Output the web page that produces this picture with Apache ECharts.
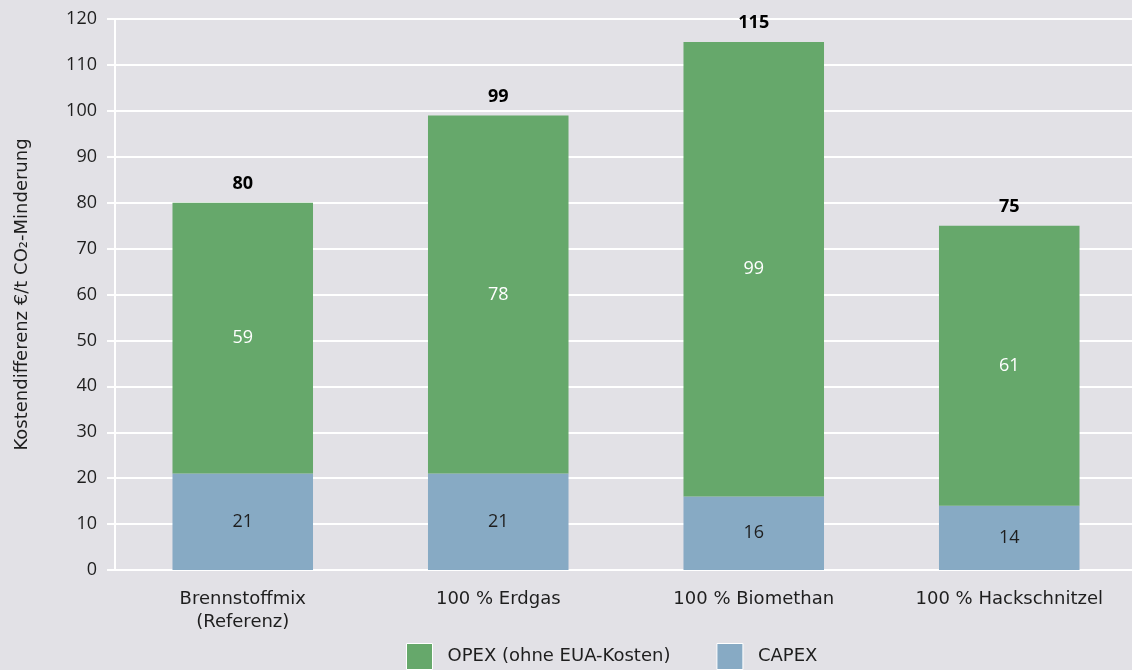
<!DOCTYPE html>
<html>
<head>
<meta charset="utf-8">
<style>
  html, body { margin: 0; padding: 0; background: #e2e1e6; }
  #chart { width: 1132px; height: 670px; }
</style>
<script src="https://cdn.jsdelivr.net/npm/echarts@6/dist/echarts.min.js"></script>
</head>
<body>
<div id="chart"></div>
<script>
// Kostendifferenz je Brennstoffvariante, €/t CO2-Minderung
const categories = ['Brennstoffmix\n(Referenz)', '100 % Erdgas', '100 % Biomethan', '100 % Hackschnitzel'];
const capex = [21, 21, 16, 14];
const opex = [59, 78, 99, 61];
const yTicks = { min: 0, max: 120, interval: 10 };

const totals = categories.map((_, i) => capex[i] + opex[i]);

const TEXT_FONT = '"DejaVu Sans", "Noto Sans", sans-serif';
const NUM_FONT = '"Open Sans", "Noto Sans", sans-serif';
const TEXT = '#1e1e1e';

const chart = echarts.init(document.getElementById('chart'), null, { renderer: 'canvas' });

chart.setOption({
  backgroundColor: '#e2e1e6',
  animation: false,
  textStyle: { fontFamily: TEXT_FONT, color: TEXT },
  grid: { left: 115, right: -5, top: 19, bottom: 100, containLabel: false, outerBoundsMode: 'none' },
  legend: {
    left: 401,
    top: 638,
    icon: 'rect',
    itemWidth: 26,
    itemHeight: 26,
    itemGap: 46,
    data: ['OPEX (ohne EUA-Kosten)', 'CAPEX'],
    itemStyle: { borderColor: '#ffffff', borderWidth: 1 },
    textStyle: { fontFamily: TEXT_FONT, fontSize: 18, color: TEXT, padding: [4, 0, 0, 10] }
  },
  xAxis: {
    type: 'category',
    data: categories,
    axisLine: { show: false },
    axisTick: { show: false },
    axisLabel: {
      fontFamily: TEXT_FONT, fontSize: 18, color: TEXT,
      margin: 18, lineHeight: 23
    }
  },
  yAxis: {
    type: 'value',
    min: yTicks.min,
    max: yTicks.max,
    interval: yTicks.interval,
    name: 'Kostendifferenz €/t CO₂-Minderung',
    nameLocation: 'middle',
    nameGap: 84,
    nameTextStyle: { fontFamily: TEXT_FONT, fontSize: 18, color: TEXT },
    axisLine: { show: true, lineStyle: { color: '#ffffff', width: 2 } },
    axisTick: { show: true, length: 8, lineStyle: { color: '#ffffff', width: 2 } },
    axisLabel: { fontFamily: NUM_FONT, fontSize: 18, color: TEXT, margin: 18 },
    splitLine: { show: true, lineStyle: { color: '#ffffff', width: 2 } }
  },
  series: [
    {
      name: 'CAPEX',
      type: 'bar',
      stack: 'kosten',
      barWidth: '55%',
      data: capex,
      itemStyle: { color: '#87aac4' },
      label: { show: true, position: 'inside', fontFamily: NUM_FONT, fontSize: 18, color: TEXT }
    },
    {
      name: 'OPEX (ohne EUA-Kosten)',
      type: 'bar',
      stack: 'kosten',
      data: opex,
      itemStyle: { color: '#66a86b' },
      label: { show: true, position: 'inside', fontFamily: NUM_FONT, fontSize: 18, color: '#ffffff' }
    },
    {
      name: 'Summe',
      type: 'bar',
      stack: 'kosten',
      data: totals.map(() => 0),
      itemStyle: { color: 'transparent' },
      label: {
        show: true,
        position: 'top',
        distance: 10,
        fontFamily: NUM_FONT,
        fontSize: 18,
        fontWeight: 'bold',
        color: '#000000',
        formatter: (p) => String(totals[p.dataIndex])
      },
      tooltip: { show: false }
    }
  ]
});
</script>
</body>
</html>
